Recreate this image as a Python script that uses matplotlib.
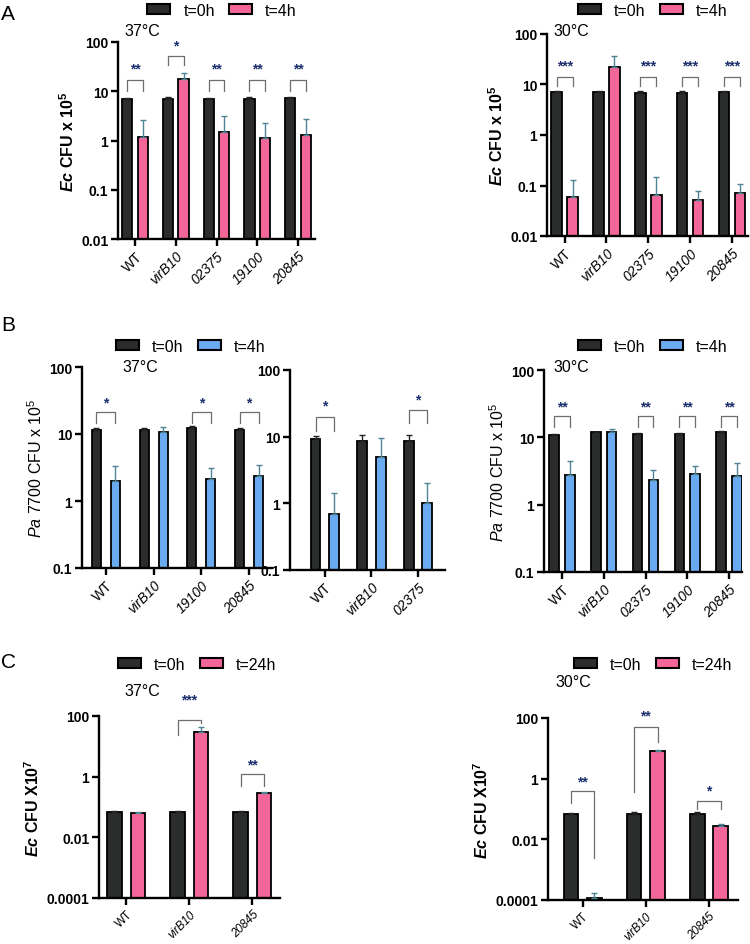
import numpy as np
import matplotlib.pyplot as plt
from matplotlib.patches import Patch

plt.rcParams['font.family'] = ['Liberation Sans', 'DejaVu Sans']
plt.rcParams['mathtext.fontset'] = 'custom'
plt.rcParams['mathtext.rm'] = 'Liberation Sans'
plt.rcParams['mathtext.it'] = 'Liberation Sans:italic'
plt.rcParams['mathtext.bf'] = 'Liberation Sans:bold'
plt.rcParams['mathtext.bfit'] = 'Liberation Sans:italic:bold'

DARK = '#2a2d2c'
PINK = '#f2669a'
BLUE = '#6aaaf0'
ERRC = '#4f8494'
STARC = '#1c2f6e'
BRC = '#6e6e6e'

# ---- dados ----
# A 37C
a37_labels = ['WT', 'virB10', '02375', '19100', '20845']
a37_t0 = [7.0, 7.0, 7.0, 7.0, 7.3]
a37_t0_err = [7.3, 7.6, 7.3, 7.8, 7.7]
a37_t4 = [1.2, 18, 1.5, 1.1, 1.3]
a37_t4_err = [2.6, 24, 3.2, 2.3, 2.7]
a37_stars = ['**', '*', '**', '**', '**']
a37_br = [(10, 10, 17, 29), (34, 34, 51, 85), (10, 10, 17, 29), (10, 10, 17, 29), (10, 10, 17, 29)]

# A 30C
a30_labels = ['WT', 'virB10', '02375', '19100', '20845']
a30_t0 = [7.2, 7.2, 6.9, 6.9, 7.2]
a30_t0_err = [7.5, 7.6, 7.4, 7.6, 7.6]
a30_t4 = [0.06, 22, 0.065, 0.052, 0.072]
a30_t4_err = [0.13, 37, 0.15, 0.078, 0.105]
a30_stars = ['***', '', '***', '***', '***']
a30_br = [(9.2, 9.2, 13.8, 24), None, (9.2, 9.2, 13.8, 24), (9.2, 9.2, 13.8, 24), (9.2, 9.2, 13.8, 24)]

# B 37C (duas partes)
b37a_labels = ['WT', 'virB10', '19100', '20845']
b37a_t0 = [11.5, 11.5, 12.5, 11.5]
b37a_t0_err = [12.3, 12.3, 13.3, 12.3]
b37a_t4 = [2.0, 10.8, 2.1, 2.4]
b37a_t4_err = [3.3, 12.8, 3.1, 3.4]
b37a_stars = ['*', '', '*', '*']
b37a_br = [(14.6, 14.6, 21, 30), None, (14.6, 14.6, 21, 30), (14.6, 14.6, 21, 30)]

b37b_labels = ['WT', 'virB10', '02375']
b37b_t0 = [9.2, 8.5, 8.5]
b37b_t0_err = [10.2, 10.5, 10.5]
b37b_t4 = [0.7, 4.9, 1.0]
b37b_t4_err = [1.45, 9.5, 2.0]
b37b_stars = ['*', '', '*']
b37b_br = [(12, 12, 20, 29), None, (16, 16, 25, 36)]

# B 30C
b30_labels = ['WT', 'virB10', '02375', '19100', '20845']
b30_t0 = [11.0, 11.8, 11.3, 11.3, 12.2]
b30_t0_err = [11.4, 12.2, 11.6, 11.6, 12.6]
b30_t4 = [2.8, 11.8, 2.3, 2.9, 2.7]
b30_t4_err = [4.5, 13.5, 3.3, 3.8, 4.1]
b30_stars = ['**', '', '**', '**', '**']
b30_br = [(14, 14, 21, 29), None, (14, 14, 21, 29), (14, 14, 21, 29), (14, 14, 21, 29)]

# C 37C
c37_labels = ['WT', 'virB10', '20845']
c37_t0 = [0.068, 0.07, 0.07]
c37_t0_err = [0.072, 0.074, 0.074]
c37_t24 = [0.062, 30, 0.29]
c37_t24_err = [0.068, 45, 0.31]
c37_stars = ['', '***', '**']
c37_br = [None, (24, 57, 76, 350), (0.5, 0.5, 1.2, 2.5)]

# C 30C
c30_labels = ['WT', 'virB10', '20845']
c30_t0 = [0.07, 0.07, 0.07]
c30_t0_err = [0.074, 0.077, 0.08]
c30_t24 = [0.00012, 8.3, 0.027]
c30_t24_err = [0.00017, 9.0, 0.032]
c30_stars = ['**', '**', '*']
c30_br = [(0.16, 0.0025, 0.4, 0.8), (0.35, 16, 52, 120), (0.1, 0.1, 0.18, 0.4)]


def px(x0, y0, x1, y1):
    # converte caixa em pixels (750x945) para coords de figura
    return [x0 / 750, 1 - y1 / 945, (x1 - x0) / 750, (y1 - y0) / 945]


def panel(ax, labels, t0, t0e, t1, t1e, color, stars, brs, ylim, yticks, yticklabels,
          ylabel, xlim, bw, off, ylab_bold=True, xfs=10):
    x = np.arange(len(labels))
    ax.bar(x - off, t0, bw, color=DARK, edgecolor='black', linewidth=1.3, zorder=2)
    ax.bar(x + off, t1, bw, color=color, edgecolor='black', linewidth=1.3, zorder=2)
    t0 = np.array(t0); t1 = np.array(t1)
    ax.errorbar(x - off, t0, yerr=[np.zeros_like(t0), np.array(t0e) - t0], fmt='none',
                ecolor='#222222', elinewidth=1, capsize=2.5, capthick=1, zorder=3)
    ax.errorbar(x + off, t1, yerr=[np.zeros_like(t1), np.array(t1e) - t1], fmt='none',
                ecolor=ERRC, elinewidth=1, capsize=2.5, capthick=1, zorder=3)
    for i, (s, b) in enumerate(zip(stars, brs)):
        if b is None:
            continue
        yl, yr, ytop, ys = b
        ax.plot([i - off, i - off, i + off, i + off], [yl, ytop, ytop, yr],
                color=BRC, lw=0.9, zorder=1, clip_on=False)
        ax.text(i, ys, s, ha='center', va='center', color=STARC, fontsize=10,
                fontweight='bold')
    ax.set_yscale('log')
    ax.set_ylim(*ylim)
    ax.set_xlim(*xlim)
    ax.set_yticks(yticks)
    ax.set_yticklabels(yticklabels, fontweight='bold', fontsize=10)
    ax.minorticks_off()
    ax.set_xticks(x)
    ax.set_xticklabels(labels, rotation=45, ha='right', rotation_mode='anchor', fontsize=xfs)
    for lab in ax.get_xticklabels():
        if lab.get_text() != 'WT':
            lab.set_style('italic')
    for sp in ['top', 'right']:
        ax.spines[sp].set_visible(False)
    for sp in ['left', 'bottom']:
        ax.spines[sp].set_linewidth(1.7)
    ax.tick_params(width=1.7, length=5, pad=2)
    ax.set_ylabel(ylabel, fontsize=11.5, fontweight='bold' if ylab_bold else 'normal', labelpad=3)


fig = plt.figure(figsize=(7.5, 9.45), dpi=100)

ecA = r'$\mathbfit{Ec}$ CFU x 10$^{\mathbf{5}}$'
paB = r'$\mathit{Pa}$ 7700 CFU x 10$^5$'
ecC = r'$\mathbfit{Ec}$ CFU X10$^{\mathbf{7}}$'

decA = [0.01, 0.1, 1, 10, 100]
decA_l = ['0.01', '0.1', '1', '10', '100']
decB = [0.1, 1, 10, 100]
decB_l = ['0.1', '1', '10', '100']
decC = [0.0001, 0.01, 1, 100]
decC_l = ['0.0001', '0.01', '1', '100']

ax1 = fig.add_axes(px(118, 43, 315, 240))
panel(ax1, a37_labels, a37_t0, a37_t0_err, a37_t4, a37_t4_err, PINK, a37_stars, a37_br,
      (0.01, 100), decA, decA_l, ecA, (-0.42, 4.42), 0.25, 0.19)
ax2 = fig.add_axes(px(547, 35, 748, 237))
panel(ax2, a30_labels, a30_t0, a30_t0_err, a30_t4, a30_t4_err, PINK, a30_stars, a30_br,
      (0.01, 100), decA, decA_l, ecA, (-0.42, 4.38), 0.25, 0.19)

ax3 = fig.add_axes(px(82, 368, 272, 569))
panel(ax3, b37a_labels, b37a_t0, b37a_t0_err, b37a_t4, b37a_t4_err, BLUE, b37a_stars, b37a_br,
      (0.1, 100), decB, decB_l, paB, (-0.5, 3.48), 0.19, 0.2, ylab_bold=False)
ax4 = fig.add_axes(px(290, 371, 445, 571))
panel(ax4, b37b_labels, b37b_t0, b37b_t0_err, b37b_t4, b37b_t4_err, BLUE, b37b_stars, b37b_br,
      (0.1, 100), decB, decB_l, '', (-0.75, 2.58), 0.21, 0.2)
ax5 = fig.add_axes(px(544, 371, 742, 573))
panel(ax5, b30_labels, b30_t0, b30_t0_err, b30_t4, b30_t4_err, BLUE, b30_stars, b30_br,
      (0.1, 100), decB, decB_l, paB, (-0.43, 4.31), 0.23, 0.19, ylab_bold=False)

ax6 = fig.add_axes(px(99, 717, 280, 899))
panel(ax6, c37_labels, c37_t0, c37_t0_err, c37_t24, c37_t24_err, PINK, c37_stars, c37_br,
      (0.0001, 100), decC, decC_l, ecC, (-0.43, 2.44), 0.23, 0.185, xfs=8.5)
ax7 = fig.add_axes(px(548, 719, 738, 901))
panel(ax7, c30_labels, c30_t0, c30_t0_err, c30_t24, c30_t24_err, PINK, c30_stars, c30_br,
      (0.0001, 100), decC, decC_l, ecC, (-0.55, 2.46), 0.23, 0.185, xfs=8.5)

# legendas, rotulos de temperatura e letras dos paineis
def leg(x, y, c2, lab2):
    h = [Patch(facecolor=DARK, edgecolor='black', linewidth=1.5),
         Patch(facecolor=c2, edgecolor='black', linewidth=1.5)]
    fig.legend(h, ['t=0h', lab2], loc='center', bbox_to_anchor=(x / 750, 1 - y / 945),
               ncol=2, frameon=False, fontsize=11.5, handlelength=1.45, handleheight=0.65,
               columnspacing=0.9, handletextpad=0.8, borderpad=0.1)

leg(222, 11, PINK, 't=4h')
leg(653, 11, PINK, 't=4h')
leg(191, 347, BLUE, 't=4h')
leg(653, 347, BLUE, 't=4h')
leg(197, 665, PINK, 't=24h')
leg(653, 665, PINK, 't=24h')

for (x, y, t) in [(124, 32, '37°C'), (553, 32, '30°C'), (122, 367, '37°C'),
                  (553, 367, '30°C'), (124, 692, '37°C'), (555, 683, '30°C')]:
    fig.text(x / 750, 1 - y / 945, t, fontsize=11.5, ha='left', va='center')

for (x, y, t) in [(1, 14, 'A'), (1, 326, 'B'), (1, 662, 'C')]:
    fig.text(x / 750, 1 - y / 945, t, fontsize=15, ha='left', va='center')

plt.savefig('out.png', dpi=100)
